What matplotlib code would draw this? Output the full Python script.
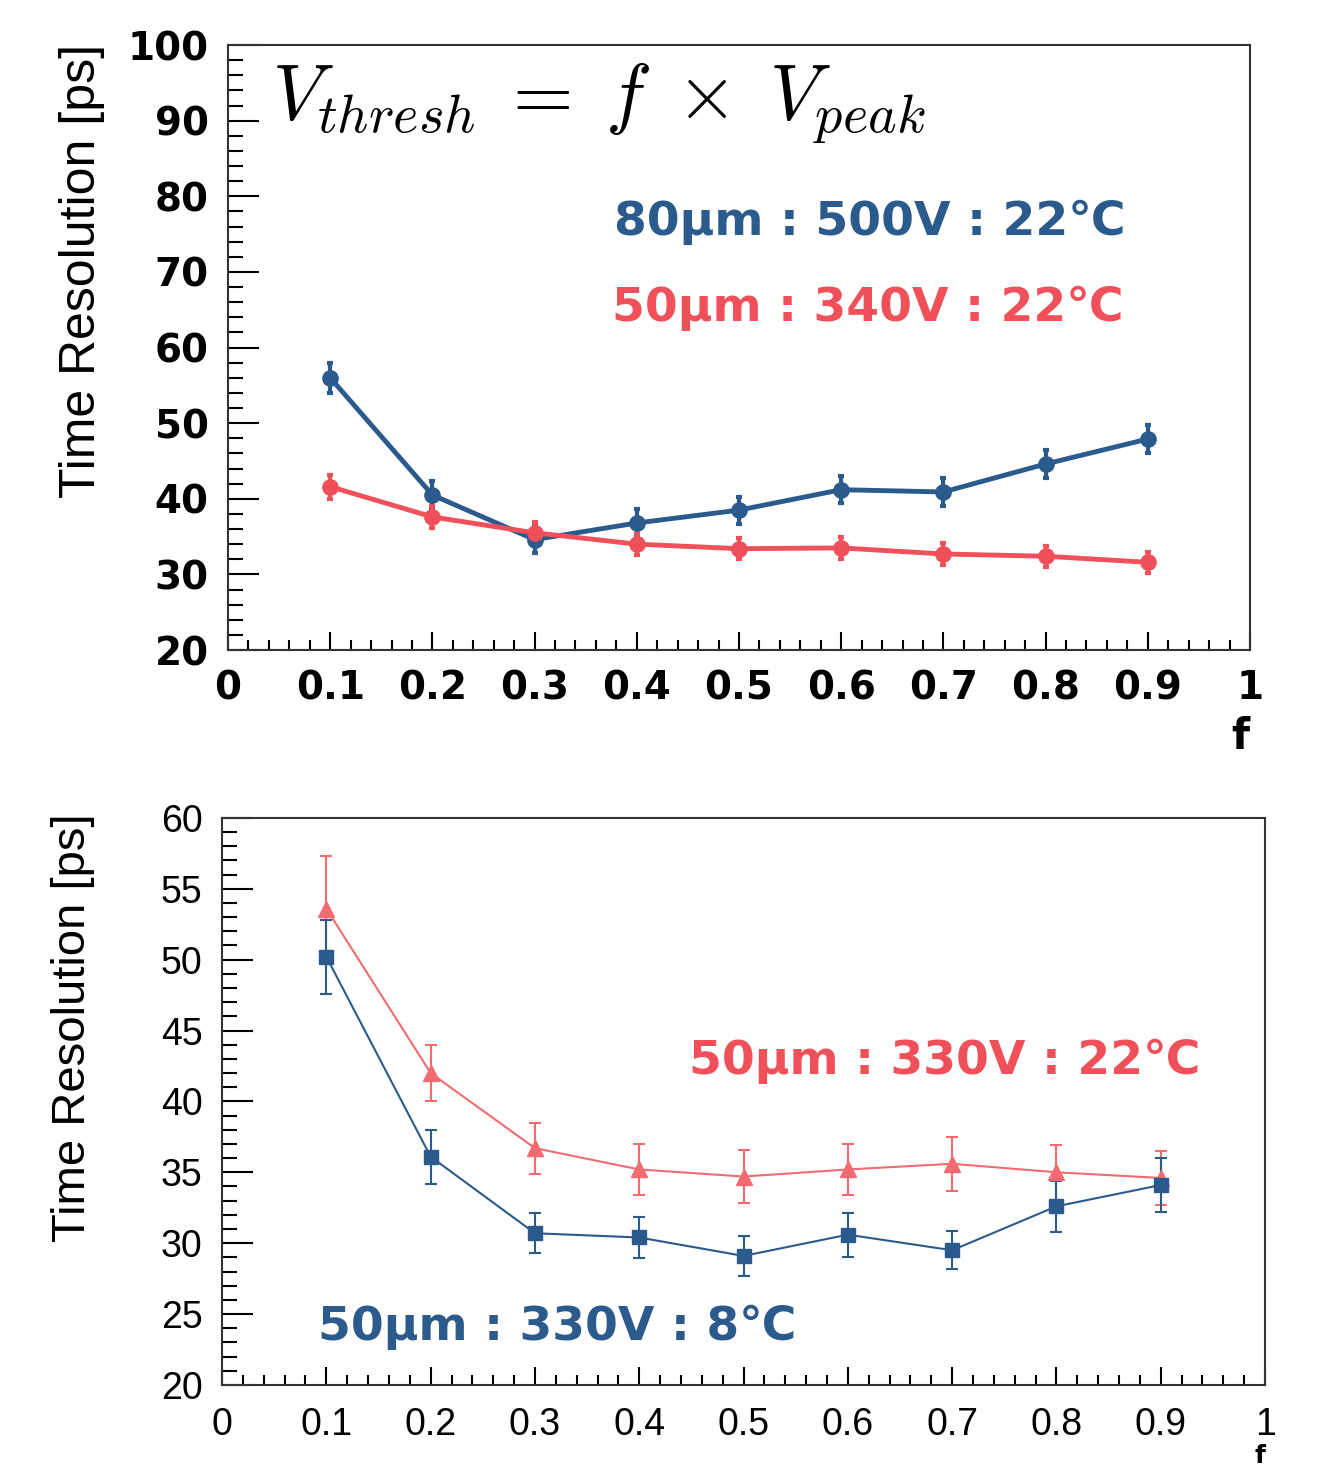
import matplotlib
matplotlib.use('Agg')
import matplotlib.pyplot as plt
from matplotlib.ticker import MultipleLocator

plt.rcParams['mathtext.fontset'] = 'cm'

# top panel: f scan, 80um vs 50um at 22C
f_top = [0.1, 0.2, 0.3, 0.4, 0.5, 0.6, 0.7, 0.8, 0.9]
res_80um = [56.0, 40.5, 34.6, 36.8, 38.5, 41.2, 40.9, 44.6, 47.9]
err_80um = [2.0, 1.8, 1.8, 1.8, 1.8, 1.8, 1.8, 1.8, 1.8]
res_50um_340 = [41.6, 37.6, 35.5, 34.0, 33.4, 33.5, 32.7, 32.4, 31.6]
err_50um_340 = [1.6, 1.4, 1.4, 1.4, 1.4, 1.4, 1.4, 1.4, 1.4]

# bottom panel: 50um 330V, 22C vs 8C
f_bot = [0.1, 0.2, 0.3, 0.4, 0.5, 0.6, 0.7, 0.8, 0.9]
res_22C = [53.6, 42.0, 36.7, 35.2, 34.7, 35.2, 35.6, 35.0, 34.6]
err_22C = [3.7, 2.0, 1.8, 1.8, 1.9, 1.8, 1.9, 1.95, 1.9]
res_8C = [50.2, 36.1, 30.7, 30.4, 29.1, 30.6, 29.5, 32.6, 34.1]
err_8C = [2.6, 1.9, 1.4, 1.45, 1.4, 1.55, 1.35, 1.8, 1.9]

x_ticks = [0, 0.1, 0.2, 0.3, 0.4, 0.5, 0.6, 0.7, 0.8, 0.9, 1]
x_labels = ['0', '0.1', '0.2', '0.3', '0.4', '0.5', '0.6', '0.7', '0.8', '0.9', '1']

BLUE = '#2b5a8c'
RED = '#f0505a'
RED_LIGHT = '#f26b70'
TXT_FONT = ['DejaVu Sans', 'Noto Sans CJK JP']

fig = plt.figure(figsize=(13.24, 14.66), dpi=100)


def style_axes(ax):
    ax.xaxis.set_minor_locator(MultipleLocator(0.02))
    ax.tick_params(axis='y', which='major', direction='in', length=22, width=1.5, pad=14)
    ax.tick_params(axis='y', which='minor', direction='in', length=11, width=1.5)
    ax.tick_params(axis='x', which='major', direction='in', length=13, width=1.5)
    ax.tick_params(axis='x', which='minor', direction='in', length=7, width=1.5)
    for sp in ax.spines.values():
        sp.set_linewidth(1.5)
        sp.set_color('#333333')


# ---- top panel
ax1 = fig.add_axes([0.1722, 0.5566, 0.7719, 0.4127])
ax1.errorbar(f_top, res_80um, yerr=err_80um, color=BLUE, marker='o', ms=11,
             lw=3.5, elinewidth=3, capsize=2, capthick=3)
ax1.errorbar(f_top, res_50um_340, yerr=err_50um_340, color=RED, marker='o', ms=11,
             lw=3.5, elinewidth=3, capsize=2, capthick=3)
ax1.set_xlim(0, 1)
ax1.set_ylim(20, 100)
ax1.set_xticks(x_ticks, x_labels)
ax1.yaxis.set_major_locator(MultipleLocator(10))
ax1.yaxis.set_minor_locator(MultipleLocator(2))
style_axes(ax1)
ax1.tick_params(axis='x', which='major', pad=14)
for lab in ax1.get_xticklabels() + ax1.get_yticklabels():
    lab.set_fontsize(28)
    lab.set_fontweight('bold')

ax1.text(0.043, 0.904, r'$V_{thresh}\;=\;f\;\times\;V_{peak}$', transform=ax1.transAxes,
         fontsize=56, ha='left', va='center')
ax1.text(0.628, 0.707, '80μm : 500V : 22℃', transform=ax1.transAxes, color=BLUE,
         fontsize=34, fontweight='bold', family=TXT_FONT, ha='center', va='center')
ax1.text(0.626, 0.565, '50μm : 340V : 22℃', transform=ax1.transAxes, color=RED,
         fontsize=34, fontweight='bold', family=TXT_FONT, ha='center', va='center')
fig.text(0.062, 0.815, 'Time Resolution [ps]', rotation=90, ha='center', va='center',
         fontsize=36, family='Liberation Sans')
fig.text(1240 / 1324, 1 - 737 / 1466, 'f', ha='center', va='center', fontsize=30,
         fontweight='bold')

# ---- bottom panel
ax2 = fig.add_axes([0.1677, 0.0553, 0.7878, 0.3868])
ax2.errorbar(f_bot, res_22C, yerr=err_22C, color=RED_LIGHT, marker='^', ms=11,
             lw=1.5, elinewidth=1.5, capsize=4, capthick=1.5)
ax2.errorbar(f_bot, res_8C, yerr=err_8C, color=BLUE, marker='s', ms=10,
             lw=1.5, elinewidth=1.5, capsize=4, capthick=1.5)
ax2.set_xlim(0, 1)
ax2.set_ylim(20, 60)
ax2.set_xticks(x_ticks, x_labels)
ax2.yaxis.set_major_locator(MultipleLocator(5))
ax2.yaxis.set_minor_locator(MultipleLocator(1))
style_axes(ax2)
ax2.tick_params(axis='x', which='major', pad=16)
for lab in ax2.get_xticklabels() + ax2.get_yticklabels():
    lab.set_fontsize(27)
    lab.set_family('Liberation Sans')

ax2.text(0.693, 0.570, '50μm : 330V : 22℃', transform=ax2.transAxes, color=RED,
         fontsize=34, fontweight='bold', family=TXT_FONT, ha='center', va='center')
ax2.text(0.321, 0.102, '50μm : 330V : 8℃', transform=ax2.transAxes, color=BLUE,
         fontsize=34, fontweight='bold', family=TXT_FONT, ha='center', va='center')
fig.text(0.055, 0.299, 'Time Resolution [ps]', rotation=90, ha='center', va='center',
         fontsize=34, family='Liberation Sans')
fig.text(1260 / 1324, 1 - 1456 / 1466, 'f', ha='center', va='center', fontsize=18,
         fontweight='bold')

fig.savefig('out.png', dpi=100)
